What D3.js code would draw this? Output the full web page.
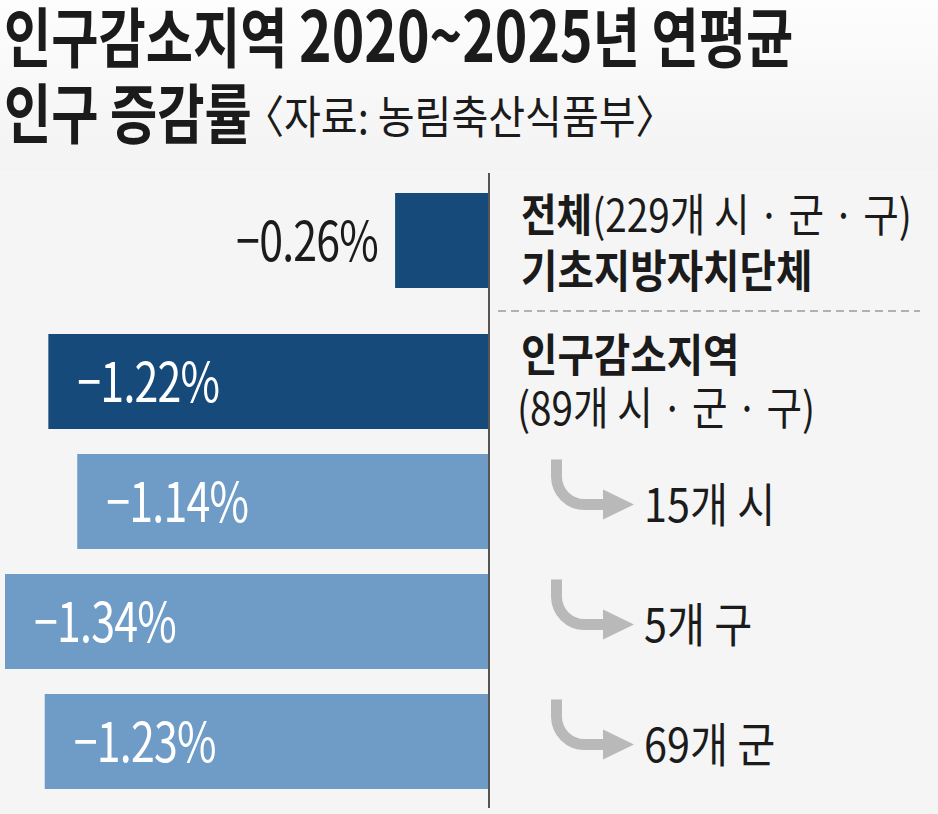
<!DOCTYPE html>
<html>
<head>
<meta charset="utf-8">
<script src="https://cdn.jsdelivr.net/npm/d3@7"></script>
<style>
  html, body { margin: 0; padding: 0; background: #f5f5f5; }
  svg { display: block; }
  text { font-family: "Noto Sans CJK KR", "Noto Sans", sans-serif; fill: #1b1b1b; }
</style>
</head>
<body>
<script>
// values
const categories = ["전체", "인구감소지역", "15개 시", "5개 구", "69개 군"];
const values = [-0.26, -1.22, -1.14, -1.34, -1.23];
const dark = [true, true, false, false, false];
const rowTitles = ["전체", "인구감소지역"];
const rowNotes = ["(229개 시 · 군 · 구)", "(89개 시 · 군 · 구)"];
const rowSub = "기초지방자치단체";
const titleParts = ["인구감소지역 ", "2020~2025", "년 연평균"];
const title2 = "인구 증감률";
const source = "〈자료: 농림축산식품부〉";

const width = 938;
const height = 814;
const sepGap = 21; // extra room above the dashed separator

const svg = d3.select("body").append("svg")
    .attr("width", width)
    .attr("height", height)
    .attr("viewBox", [0, 0, width, height]);

const defs = svg.append("defs");
const grad = defs.append("linearGradient").attr("id", "bg").attr("x1", 0).attr("y1", 0).attr("x2", 0).attr("y2", 1);
grad.append("stop").attr("offset", "0%").attr("stop-color", "#fdfdfd");
grad.append("stop").attr("offset", "100%").attr("stop-color", "#f3f3f3");

svg.append("rect").attr("width", width).attr("height", height).attr("fill", "#f5f5f5");
svg.append("rect").attr("width", width).attr("height", 170).attr("fill", "url(#bg)");

const x = d3.scaleLinear().domain([d3.min(values), 0]).range([5, 489]);
const y = d3.scaleBand().domain(categories).range([214, 789]).paddingInner(25 / 120).paddingOuter(0);
const fmt = v => d3.format(".2f")(v) + "%";
const barTop = (d, i) => y(d) - (i === 0 ? sepGap : 0);

// condensed text: scale horizontally around the anchor
function label(g, px, py, parts, size, sx) {
    const t = g.append("text")
        .attr("transform", `translate(${px},${py}) scale(${sx},1)`)
        .attr("font-size", size);
    parts.forEach(p => {
        const s = t.append("tspan").attr("font-weight", p[1] || 400).text(p[0]);
        if (p[2]) s.attr("font-size", p[2]);
    });
    return t;
}

// title
label(svg, 4, 62, [[titleParts[0], 700], [titleParts[1], 700, 70], [titleParts[2], 700]], 65, 0.79);
label(svg, 4, 138, [[title2, 700]], 65, 0.79);
label(svg, 244, 134, [[source, 400]], 45, 0.89);

// bars
svg.append("g")
    .selectAll("rect")
    .data(categories)
    .join("rect")
    .attr("x", (d, i) => x(values[i]))
    .attr("y", (d, i) => barTop(d, i))
    .attr("width", (d, i) => x(0) - x(values[i]))
    .attr("height", y.bandwidth())
    .attr("fill", (d, i) => dark[i] ? "#154a7a" : "#6f9cc7");

// value labels
const inside = i => x(0) - x(values[i]) > 200;
svg.append("g")
    .selectAll("text")
    .data(categories)
    .join("text")
    .attr("transform", (d, i) => {
        const cy = barTop(d, i) + y.bandwidth() / 2 + 20;
        const px = inside(i) ? x(values[i]) + 29 : x(values[i]) - 17;
        return `translate(${px},${cy}) scale(0.78,1)`;
    })
    .attr("text-anchor", (d, i) => inside(i) ? "start" : "end")
    .attr("font-family", "'Liberation Sans', Arial, sans-serif")
    .attr("font-size", 55)
    .attr("letter-spacing", -1)
    .style("fill", (d, i) => inside(i) ? "#fff" : "#1b1b1b")
    .text((d, i) => fmt(values[i]));

// zero line
svg.append("line")
    .attr("x1", x(0)).attr("x2", x(0))
    .attr("y1", 173).attr("y2", 808)
    .attr("stroke", "#555").attr("stroke-width", 2);

// separator
const sepY = (barTop(categories[0], 0) + y.bandwidth() + y(categories[1])) / 2;
svg.append("line")
    .attr("x1", 498).attr("x2", 920)
    .attr("y1", sepY).attr("y2", sepY)
    .attr("stroke", "#9a9a9a").attr("stroke-width", 1.5)
    .attr("stroke-dasharray", "8,5");

// right side labels
const lx = 521;
const c0 = barTop(categories[0], 0) + y.bandwidth() / 2;
const c1 = y(categories[1]) + y.bandwidth() / 2;
label(svg, lx, c0 - 9, [[rowTitles[0], 700], [rowNotes[0], 400]], 45, 0.86);
label(svg, lx, c0 + 47, [[rowSub, 700]], 45, 0.88);
label(svg, lx, c1 - 10, [[rowTitles[1], 700]], 45, 0.88);
label(svg, lx - 4, c1 + 43, [[rowNotes[1], 400]], 45, 0.86);

// sub-category arrows
const ax = 556.5;
const arrows = svg.append("g");
categories.slice(2).forEach(c => {
    const cy = y(c) + y.bandwidth() / 2;
    const hy = cy + 3;
    arrows.append("path")
        .attr("d", `M${ax},${cy - 42}V${hy - 28}A28,28 0 0 0 ${ax + 28},${hy}H606`)
        .attr("fill", "none")
        .attr("stroke", "#b9b9b9")
        .attr("stroke-width", 11);
    arrows.append("path")
        .attr("d", `M603,${hy - 15}L634,${hy}L603,${hy + 15}Z`)
        .attr("fill", "#b9b9b9");
    label(svg, 644, cy + 20, [[c, 400]], 47, 0.88);
});
</script>
</body>
</html>
